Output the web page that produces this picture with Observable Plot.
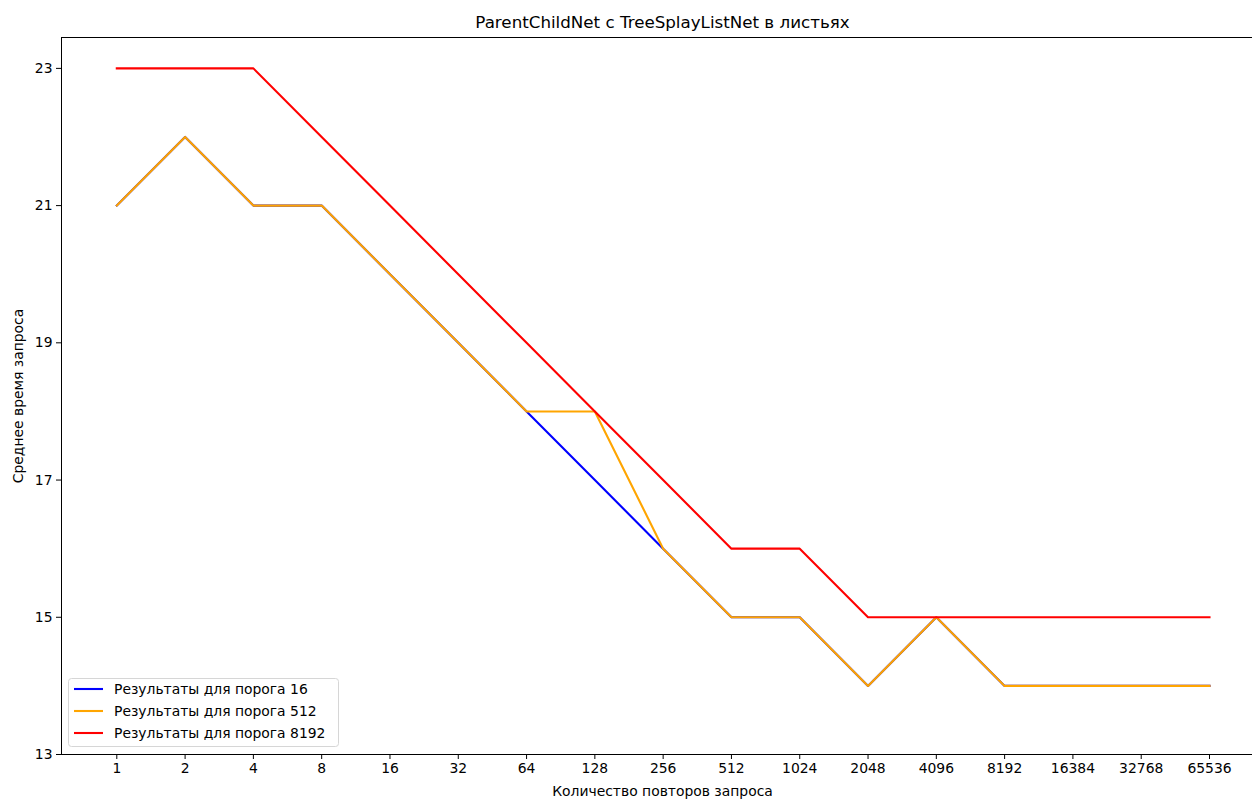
<!DOCTYPE html>
<html>
<head>
<meta charset="utf-8">
<script src="https://cdn.jsdelivr.net/npm/d3@7"></script>
<script src="https://cdn.jsdelivr.net/npm/@observablehq/plot@0.6"></script>
<style>
  body { margin: 0; overflow: hidden; background: #fff; }
  #chart { width: 1252px; height: 799px; }
</style>
</head>
<body>
<div id="chart"></div>
<script>
// Number of query repetitions (categorical x axis)
const repeats = ["1", "2", "4", "8", "16", "32", "64", "128", "256", "512", "1024", "2048", "4096", "8192", "16384", "32768", "65536"];

// Mean query time for each threshold
const thr16   = [21, 22, 21, 21, 20, 19, 18, 17, 16, 15, 15, 14, 15, 14, 14, 14, 14];
const thr512  = [21, 22, 21, 21, 20, 19, 18, 18, 16, 15, 15, 14, 15, 14, 14, 14, 14];
const thr8192 = [23, 23, 23, 22, 21, 20, 19, 18, 17, 16, 16, 15, 15, 15, 15, 15, 15];

const seriesNames  = ["Результаты для порога 16", "Результаты для порога 512", "Результаты для порога 8192"];
const seriesColors = ["blue", "orange", "red"];
const seriesValues = [thr16, thr512, thr8192];

const yTicks = [13, 15, 17, 19, 21, 23];

const title  = "ParentChildNet с TreeSplayListNet в листьях";
const xLabel = "Количество повторов запроса";
const yLabel = "Среднее время запроса";

const rows = seriesNames.flatMap((name, s) =>
  repeats.map((r, i) => ({ repeat: r, value: seriesValues[s][i], name }))
);

const font = "DejaVu Sans";

const plot = Plot.plot({
  width: 1252,
  height: 799,
  marginLeft: 61,
  marginRight: 0,
  marginTop: 37,
  marginBottom: 45,
  style: { fontFamily: font, fontSize: "13.9px", background: "#fff", color: "#000" },
  x: { type: "point", domain: repeats, range: [116.3, 1209], padding: 0, round: false },
  y: { domain: [13, 23.45] },
  color: { domain: seriesNames, range: seriesColors },
  marks: [
    Plot.frame({ anchor: "left", stroke: "#000", strokeWidth: 1 }),
    Plot.frame({ anchor: "top", stroke: "#000", strokeWidth: 1 }),
    Plot.frame({ anchor: "bottom", stroke: "#000", strokeWidth: 1 }),
    Plot.axisX({ tickSize: 5, tickPadding: 4, label: null, fontSize: 13.9 }),
    Plot.axisY({ ticks: yTicks, tickSize: 5, tickPadding: 4, label: null, fontSize: 13.9 }),
    ...seriesNames.map((name) =>
      Plot.line(rows.filter((d) => d.name === name), {
        x: "repeat",
        y: "value",
        stroke: "name",
        strokeWidth: 2.1,
        strokeLinejoin: "round",
        strokeLinecap: "square"
      })
    ),
    Plot.text([title], { frameAnchor: "top-left", dx: 601, dy: -15, lineAnchor: "middle", textAnchor: "middle", fontSize: 16.7 }),
    Plot.text([xLabel], { frameAnchor: "bottom-left", dx: 601, dy: 37, lineAnchor: "middle", textAnchor: "middle", fontSize: 13.9 }),
    Plot.text([yLabel], { frameAnchor: "left", dx: -43, rotate: -90, lineAnchor: "middle", textAnchor: "middle", fontSize: 13.9 })
  ]
});

// Legend box in the lower-left corner of the axes
const svg = d3.select(plot);
const legend = svg.append("g")
  .attr("font-family", font)
  .attr("font-size", 13.9)
  .attr("text-anchor", "start");
legend.append("rect")
  .attr("x", 68.5).attr("y", 678.5).attr("width", 270).attr("height", 68)
  .attr("rx", 3).attr("fill", "#fff").attr("fill-opacity", 0.8)
  .attr("stroke", "#d6d6d6").attr("stroke-width", 1);
const legendY = [689, 711, 733];
seriesNames.forEach((name, i) => {
  legend.append("line")
    .attr("x1", 74).attr("x2", 103).attr("y1", legendY[i]).attr("y2", legendY[i])
    .attr("stroke", seriesColors[i]).attr("stroke-width", 2.1);
  legend.append("text")
    .attr("x", 114).attr("y", legendY[i]).attr("dy", "0.35em")
    .attr("text-anchor", "start")
    .attr("fill", "#000").text(name);
});

document.getElementById("chart").appendChild(plot);
</script>
</body>
</html>
